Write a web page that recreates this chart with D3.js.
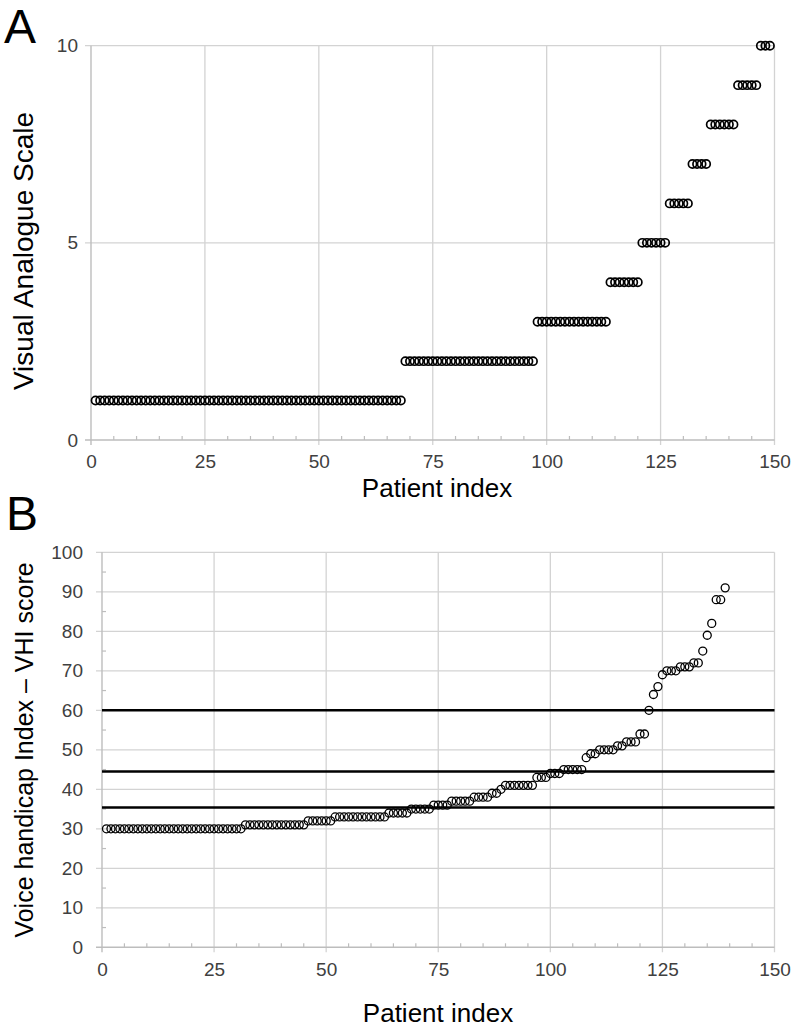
<!DOCTYPE html>
<html><head><meta charset="utf-8">
<script src="https://cdn.jsdelivr.net/npm/d3@7"></script>
<style>
body{margin:0;background:#fff;}
text{font-family:"Liberation Sans",Arial,Helvetica,sans-serif;}
</style>
</head><body>
<svg id="c" width="793" height="1029"></svg>
<script>
// ---------- DATA ----------
const xTickValues = [0, 25, 50, 75, 100, 125, 150];
const vasTickValues = [0, 5, 10];
const vhiTickValues = [0, 10, 20, 30, 40, 50, 60, 70, 80, 90, 100];
// Panel A: Visual Analogue Scale, sorted, one value per patient (index 1..149)
const vasValues = [
  1,1,1,1,1,1,1,1,1,1, 1,1,1,1,1,1,1,1,1,1,
  1,1,1,1,1,1,1,1,1,1, 1,1,1,1,1,1,1,1,1,1,
  1,1,1,1,1,1,1,1,1,1, 1,1,1,1,1,1,1,1,1,1,
  1,1,1,1,1,1,1,1,
  2,2,2,2,2,2,2,2,2,2, 2,2,2,2,2,2,2,2,2,2, 2,2,2,2,2,2,2,2,2,
  3,3,3,3,3,3,3,3,3,3, 3,3,3,3,3,3,
  4,4,4,4,4,4,4,
  5,5,5,5,5,5,
  6,6,6,6,6,
  7,7,7,7,
  8,8,8,8,8,8,
  9,9,9,9,9,
  10,10,10
];
// Panel B: VHI score, sorted, one value per patient (index 1..139)
const vhiValues = [
  30,30,30,30,30,30,30,30,30,30, 30,30,30,30,30,30,30,30,30,30,
  30,30,30,30,30,30,30,30,30,30, 30,
  31,31,31,31,31,31,31,31,31,31, 31,31,31,31,
  32,32,32,32,32,32,
  33,33,33,33,33,33,33,33,33,33, 33,33,
  34,34,34,34,34,
  35,35,35,35,35,
  36,36,36,36,
  37,37,37,37,37,
  38,38,38,38,
  39,39,
  40,
  41,41,41,41,41,41,41,
  43,43,43,
  44,44,44,
  45,45,45,45,45,
  48,
  49,49,
  50,50,50,50,
  51,51,
  52,52,52,
  54,54,
  60,64,66,69,70,70,70,71,71,71,72,72,75,79,82,88,88,91
];
const vhiThresholds = [60, 44.5, 35.4];

// ---------- DRAW ----------
const svg = d3.select('#c');
const GRID = '#d3d3d3', AXIS = '#bdbdbd', LABEL = '#404040';

function panel(cfg) {
  const { x, y, values, xTicks, yTicks, yMinor, yPad, xPad, r, sw, lines } = cfg;
  const g = svg.append('g');
  const [x0, x1] = x.range();
  const [y0, y1] = y.range();
  g.selectAll(null).data(xTicks.filter(d => d > 0)).join('line')
    .attr('x1', d => x(d)).attr('x2', d => x(d))
    .attr('y1', y1).attr('y2', y0 + 5)
    .attr('stroke', GRID).attr('stroke-width', 1.3);
  g.selectAll(null).data(yTicks.filter(d => d > 0)).join('line')
    .attr('x1', x0 - 6).attr('x2', x1)
    .attr('y1', d => y(d)).attr('y2', d => y(d))
    .attr('stroke', GRID).attr('stroke-width', 1.3);
  const xm = d3.range(5, 150, 5).filter(d => d % 25 !== 0);
  g.selectAll(null).data(xm).join('line')
    .attr('x1', d => x(d)).attr('x2', d => x(d))
    .attr('y1', y0).attr('y2', y0 - 4)
    .attr('stroke', AXIS).attr('stroke-width', 1.2);
  if (yMinor) {
    g.selectAll(null).data(yMinor).join('line')
      .attr('x1', x0).attr('x2', x0 + 4)
      .attr('y1', d => y(d)).attr('y2', d => y(d))
      .attr('stroke', AXIS).attr('stroke-width', 1.2);
  }
  g.append('line').attr('x1', x0 - 6).attr('x2', x1).attr('y1', y0).attr('y2', y0)
    .attr('stroke', AXIS).attr('stroke-width', 1.4);
  g.append('line').attr('x1', x0).attr('x2', x0).attr('y1', y1).attr('y2', y0 + 5)
    .attr('stroke', AXIS).attr('stroke-width', 1.4);
  if (lines) {
    g.selectAll(null).data(lines).join('line')
      .attr('x1', x0).attr('x2', x1)
      .attr('y1', d => y(d)).attr('y2', d => y(d))
      .attr('stroke', '#000').attr('stroke-width', 2.6);
  }
  const ax = g.append('g').attr('transform', `translate(0,${y0})`)
    .call(d3.axisBottom(x).tickValues(xTicks).tickSize(0).tickPadding(xPad).tickFormat(d3.format('d')));
  const ay = g.append('g').attr('transform', `translate(${x0},0)`)
    .call(d3.axisLeft(y).tickValues(yTicks).tickSize(0).tickPadding(yPad).tickFormat(d3.format('d')));
  [ax, ay].forEach(a => {
    a.select('.domain').remove();
    a.selectAll('text').attr('fill', LABEL).style('font-size', '19px')
      .style('font-family', '"Liberation Sans",Arial,sans-serif');
  });
  g.append('g').selectAll('circle').data(values).join('circle')
    .attr('cx', (d, i) => x(i + 1)).attr('cy', d => y(d))
    .attr('r', r).attr('fill', 'none').attr('stroke', '#000').attr('stroke-width', sw);
  return g;
}

// Panel A
const xA = d3.scaleLinear().domain([0, 150]).range([91, 774.5]);
const yA = d3.scaleLinear().domain([0, 10]).range([440, 45.7]);
panel({ x: xA, y: yA, values: vasValues, xTicks: xTickValues, yTicks: vasTickValues,
        yMinor: null, yPad: 13, xPad: 15, r: 4.1, sw: 1.7 });

// Panel B
const xB = d3.scaleLinear().domain([0, 150]).range([102, 774.5]);
const yB = d3.scaleLinear().domain([0, 100]).range([947.3, 552.3]);
panel({ x: xB, y: yB, values: vhiValues, xTicks: xTickValues, yTicks: vhiTickValues,
        yMinor: d3.range(5, 100, 10), yPad: 19, xPad: 15, r: 4.0, sw: 1.3, lines: vhiThresholds });

// titles
svg.append('text').attr('x', 4).attr('y', 43).style('font-size', '48px').attr('fill', '#000').text('A');
svg.append('text').attr('x', 6).attr('y', 530).style('font-size', '48px').attr('fill', '#000').text('B');

svg.append('text').attr('x', 437).attr('y', 497).attr('text-anchor', 'middle')
  .style('font-size', '26px').attr('fill', '#000').text('Patient index');
svg.append('text').attr('x', 438).attr('y', 1022).attr('text-anchor', 'middle')
  .style('font-size', '26px').attr('fill', '#000').text('Patient index');

svg.append('text').attr('transform', 'translate(33,251) rotate(-90)').attr('text-anchor', 'middle')
  .style('font-size', '28px').attr('fill', '#000').text('Visual Analogue Scale');
svg.append('text').attr('transform', 'translate(33,750) rotate(-90)').attr('text-anchor', 'middle')
  .style('font-size', '25px').attr('fill', '#000').text('Voice handicap Index – VHI score');
</script>
</body></html>
